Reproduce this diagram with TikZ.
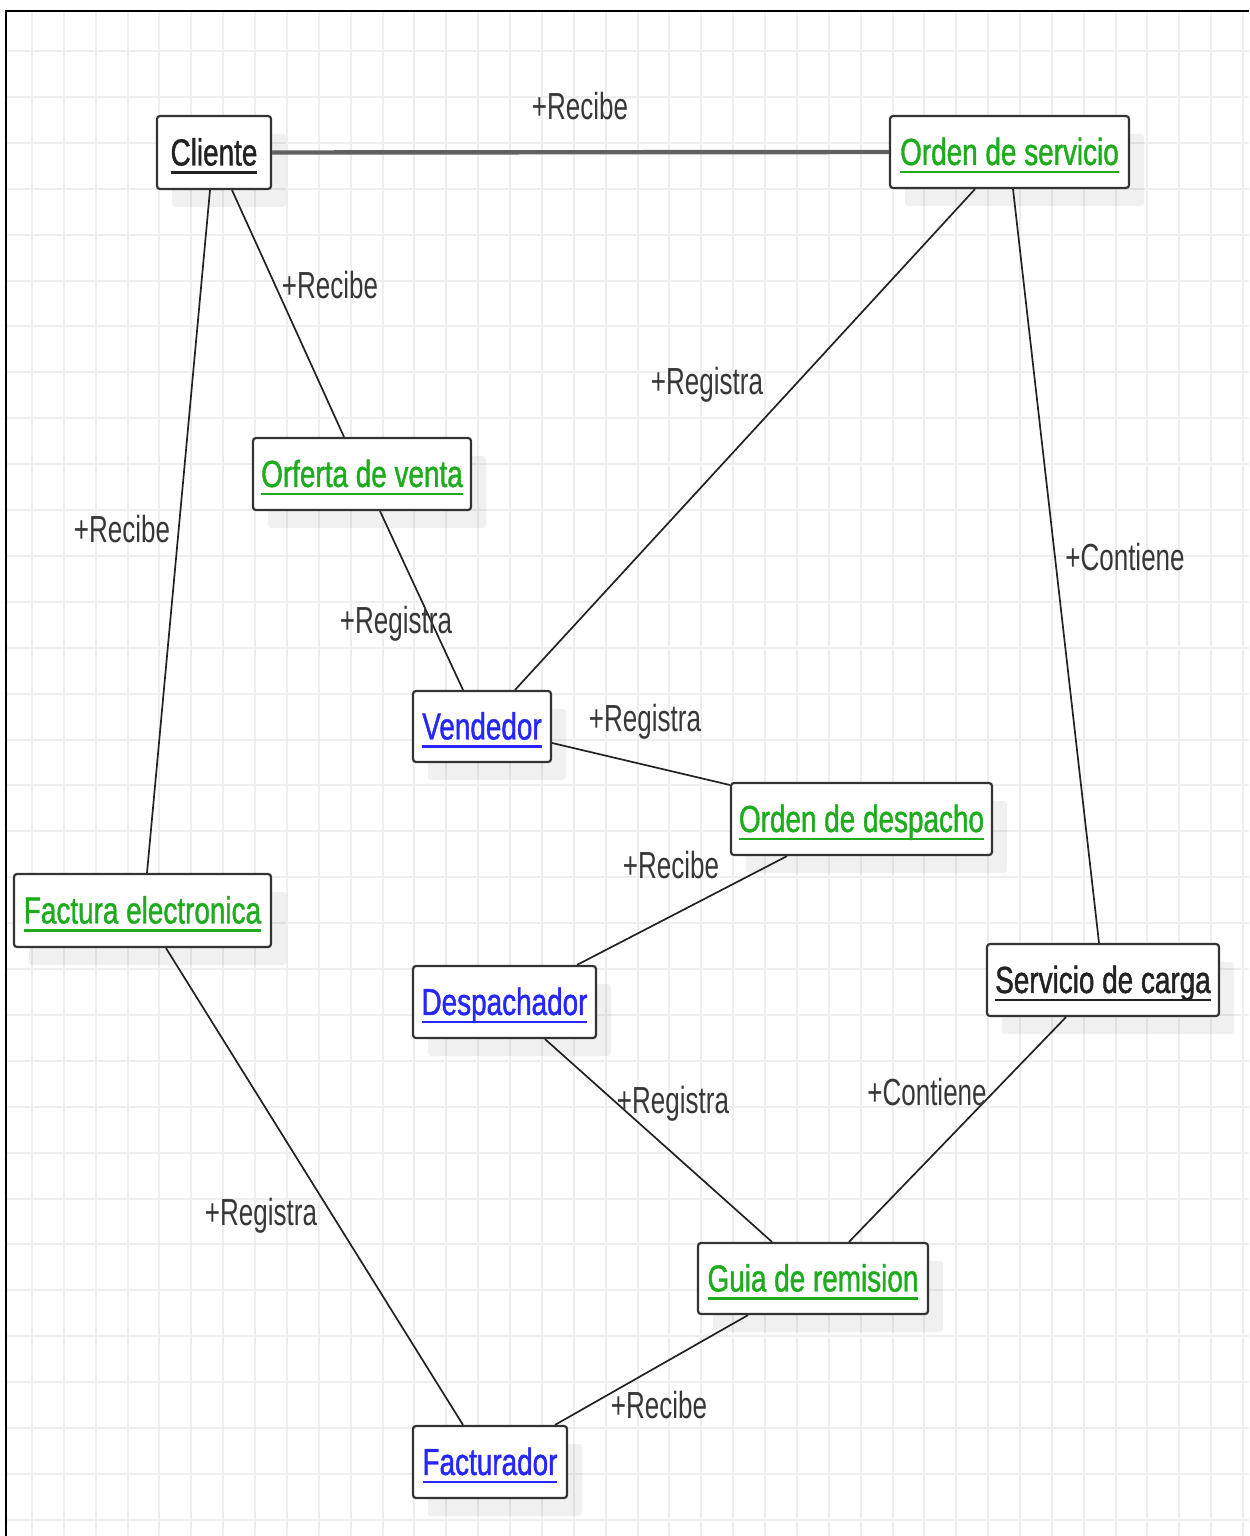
\documentclass[tikz,border=0pt]{standalone}
\usepackage{fontspec}
\usetikzlibrary{shadows}
\newfontfamily\umlfont[FakeStretch=0.69]{Liberation Sans}
\newfontfamily\umlnamefont[FakeStretch=0.74,FakeBold=1.1]{Liberation Sans}

\definecolor{umlgreen}{RGB}{30,172,30}
\definecolor{umlblue}{RGB}{38,38,255}
\definecolor{umlink}{RGB}{34,34,34}
\definecolor{lblink}{RGB}{55,55,55}
\definecolor{gridc}{RGB}{238,238,238}
\definecolor{edgec}{RGB}{51,51,51}

% text whose box has cap height only, so nodes centre on the capitals
\newcommand\capbox[1]{\raisebox{0pt}[\fontcharht\font`H][0pt]{#1}}
% underlined class name
\newcommand\ulname[1]{\capbox{\setbox0\hbox{#1}\rlap{\rule[-4.1pt]{\wd0}{1.25pt}}\box0}}

\tikzset{
  x=0.5pt, y=-0.5pt,
  labeltext/.style={font=\umlfont\fontsize{18.85}{22}\selectfont},
  nametext/.style={font=\umlnamefont\fontsize{18.85}{22}\selectfont},
  box/.style 2 args={nametext, draw=edgec, line width=1.1pt, rounded corners=1.5pt,
    fill=white, inner sep=0pt, minimum width=#1*0.5pt, minimum height=#2*0.5pt,
    drop shadow={shadow xshift=7.5pt, shadow yshift=-9pt, fill=black, opacity=0.06}},
  cls/.style={text=umlink},
  ent/.style={text=umlgreen},
  act/.style={text=umlblue},
  rel/.style={draw=umlink, line width=0.85pt},
  mainrel/.style={draw=black!62, line width=2.2pt},
  role/.style={labeltext, text=lblink, inner sep=0pt},
  gridline/.style={draw=gridc, line width=1pt},
}

\begin{document}
\begin{tikzpicture}
\useasboundingbox (0,0) rectangle (1249,1536);
\fill[white] (0,0) rectangle (1249,1536);

% background grid
\foreach \i in {0,...,38}
  \draw[gridline] ({32+31.87*\i},11) -- ({32+31.87*\i},1536);
\foreach \j in {0,...,32}
  \draw[gridline] (7,{51+45.9*\j}) -- (1249,{51+45.9*\j});

% sheet edge
\draw[line width=1.2pt] (6,1536) -- (6,11) -- (1249,11);

% classes
\node[box={114}{73}, cls] (cli) at (214,152.5)  {\ulname{Cliente}};
\node[box={239}{72}, ent] (os)  at (1009.5,152) {\ulname{Orden de servicio}};
\node[box={218}{72}, ent] (ofv) at (362,474)    {\ulname{Orferta de venta}};
\node[box={138}{71}, act] (ven) at (482,726.5)  {\ulname{Vendedor}};
\node[box={261}{72}, ent] (od)  at (861.5,819)  {\ulname{Orden de despacho}};
\node[box={257}{73}, ent] (fe)  at (142.5,910.5){\ulname{Factura electronica}};
\node[box={183}{72}, act] (des) at (504.5,1002) {\ulname{Despachador}};
\node[box={232}{72}, cls] (sc)  at (1103,980)   {\ulname{Servicio de carga}};
\node[box={230}{71}, ent] (gr)  at (813,1278.5) {\ulname{Guia de remision}};
\node[box={154}{72}, act] (fac) at (490,1462)   {\ulname{Facturador}};

% associations
\draw[mainrel] (cli.east) -- (os.west);
\draw[rel] ([xshift=-2pt]cli.south) -- ([xshift=2.25pt]fe.north);
\draw[rel] ([xshift=9pt]cli.south) -- ([xshift=-9pt]ofv.north);
\draw[rel] ([xshift=-17.25pt]os.south) -- ([xshift=16.5pt]ven.north);
\draw[rel] ([xshift=1.75pt]os.south) -- ([xshift=-2pt]sc.north);
\draw[rel] ([xshift=9pt]ofv.south) -- ([xshift=-9.5pt]ven.north);
\draw[rel] ([yshift=-8.25pt]ven.east) -- ([yshift=17pt]od.west);
\draw[rel] ([xshift=-37.25pt]od.south) -- ([xshift=36.25pt]des.north);
\draw[rel] ([xshift=20.25pt]des.south) -- ([xshift=-20.5pt]gr.north);
\draw[rel] ([xshift=-18.5pt]sc.south) -- ([xshift=18pt]gr.north);
\draw[rel] ([xshift=11.75pt]fe.south) -- ([xshift=-13.5pt]fac.north);
\draw[rel] ([xshift=-32.5pt]gr.south) -- ([xshift=32.5pt]fac.north);

% role names
\node[role] (r1)  at (580,107)  {\capbox{+Recibe}};
\node[role] (r2)  at (330,286)  {\capbox{+Recibe}};
\node[role] (r3)  at (122,530)  {\capbox{+Recibe}};
\node[role] (r4)  at (707,382)  {\capbox{+Registra}};
\node[role] (r5)  at (1125,558) {\capbox{+Contiene}};
\node[role] (r6)  at (396,621)  {\capbox{+Registra}};
\node[role] (r7)  at (645,719)  {\capbox{+Registra}};
\node[role] (r8)  at (671,866)  {\capbox{+Recibe}};
\node[role] (r9)  at (673,1101) {\capbox{+Registra}};
\node[role] (r10) at (927,1093) {\capbox{+Contiene}};
\node[role] (r11) at (261,1213) {\capbox{+Registra}};
\node[role] (r12) at (659,1406) {\capbox{+Recibe}};
\end{tikzpicture}
\end{document}
